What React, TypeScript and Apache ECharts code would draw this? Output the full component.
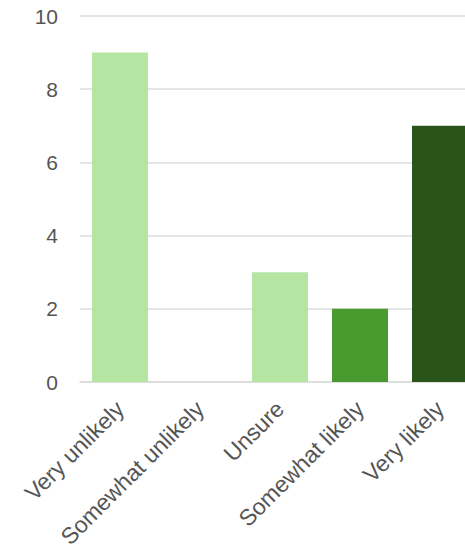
import React, { useEffect, useRef } from "react";
import * as echarts from "echarts";

const categories = ["Very unlikely", "Somewhat unlikely", "Unsure", "Somewhat likely", "Very likely"];
const values = [9, 0, 3, 2, 7];
const barColors = ["#b5e5a3", "#b5e5a3", "#b5e5a3", "#4a9b2f", "#29551a"];

export default function App() {
  const ref = useRef<HTMLDivElement>(null);
  useEffect(() => {
    const chart = echarts.init(ref.current!, null, { renderer: "svg" });
    chart.setOption({
      animation: false,
      grid: { left: 80, right: 20, top: 16, bottom: 173, containLabel: false },
      xAxis: {
        type: "category",
        data: categories,
        axisTick: { show: false },
        axisLine: { show: true, lineStyle: { color: "#dcdcdc", width: 1.5 } },
        axisLabel: {
          rotate: 45,
          interval: 0,
          margin: 23,
          fontSize: 23,
          color: "#555",
          fontFamily: "Liberation Sans",
        },
      },
      yAxis: {
        type: "value",
        min: 0,
        max: 10,
        interval: 2,
        axisLine: { show: false },
        axisTick: { show: false },
        splitLine: { lineStyle: { color: "#dcdcdc", width: 1.5 } },
        axisLabel: { margin: 22, fontSize: 21, color: "#555", fontFamily: "Liberation Sans" },
      },
      series: [
        {
          type: "bar",
          barWidth: 56,
          data: values.map((v, i) => ({ value: v, itemStyle: { color: barColors[i] } })),
        },
      ],
    });
    return () => chart.dispose();
  }, []);
  return (
    <div style={{ position: "fixed", left: 0, top: 0, width: 465, height: 555, overflow: "hidden", background: "#fff" }}>
      <div ref={ref} style={{ width: 500, height: 555 }} />
    </div>
  );
}
